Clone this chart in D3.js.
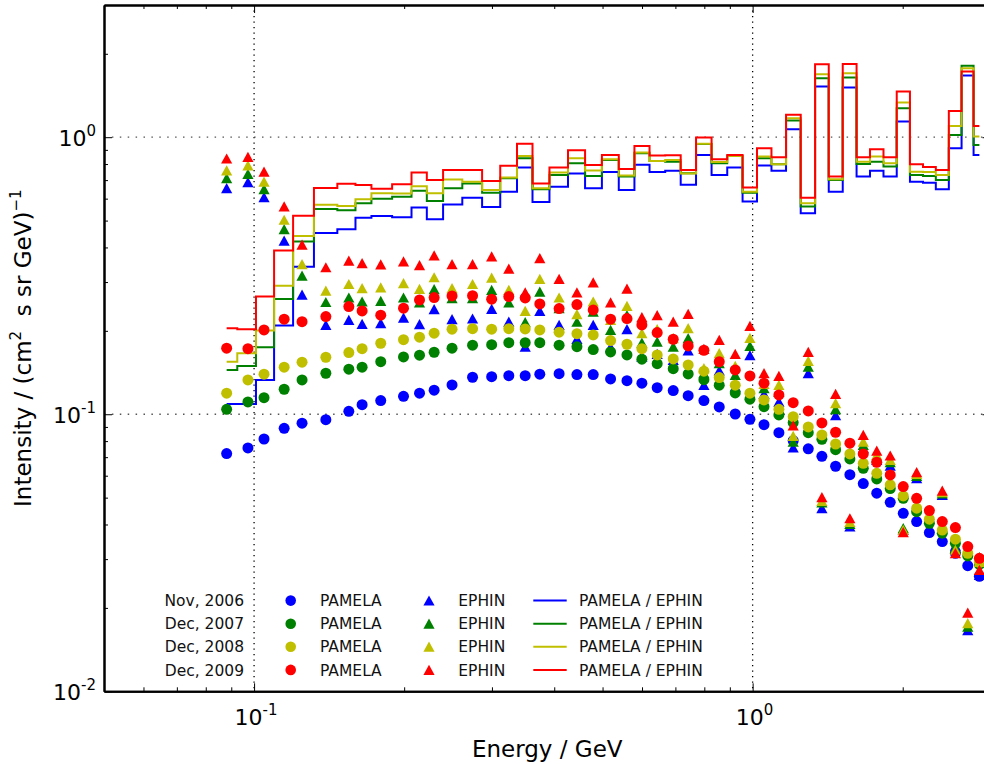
<!DOCTYPE html>
<html>
<head>
<meta charset="utf-8">
<script src="https://cdn.jsdelivr.net/npm/d3@7"></script>
<style>
  body { margin: 0; background: #fff; }
  svg { display: block; font-family: "DejaVu Sans", sans-serif; }
</style>
</head>
<body>
<div id="chart"></div>
<script>
  // Energy bins (GeV), shared by PAMELA, EPHIN and the combined spectra
  const energy = [0.0881, 0.0972, 0.1047, 0.1149, 0.1248, 0.1393, 0.1549, 0.1647, 0.1795, 0.1994,
    0.2147, 0.2297, 0.2495, 0.2743, 0.2996, 0.3243, 0.3498, 0.3742, 0.4091, 0.4442,
    0.4789, 0.5189, 0.5597, 0.5996, 0.6435, 0.6930, 0.7425, 0.7985, 0.8571, 0.9228,
    0.9876, 1.054, 1.129, 1.206, 1.293, 1.377, 1.467, 1.567, 1.667, 1.774,
    1.888, 2.005, 2.133, 2.262, 2.401, 2.551, 2.701, 2.850];

  const years = ['Nov, 2006', 'Dec, 2007', 'Dec, 2008', 'Dec, 2009'];
  const colors = ['#0000ff', '#008000', '#bfbf00', '#ff0000'];

  // PAMELA intensities (circles)
  const pamela2006 = [0.0721, 0.0756, 0.0814, 0.0890, 0.0928, 0.0956, 0.1025, 0.1083, 0.1120, 0.1161,
    0.1191, 0.1221, 0.1276, 0.1360, 0.1367, 0.1378, 0.1378, 0.1395, 0.1401, 0.1390,
    0.1390, 0.1341, 0.1322, 0.1294, 0.1247, 0.1217, 0.1167, 0.1120, 0.1063, 0.1002,
    0.0959, 0.0917, 0.0858, 0.0803, 0.0750, 0.0705, 0.0649, 0.0605, 0.0562, 0.0519,
    0.0481, 0.0439, 0.0410, 0.0374, 0.0347, 0.0315, 0.0284, 0.0260];
  const pamela2007 = [0.1042, 0.1108, 0.1148, 0.1231, 0.1330, 0.1406, 0.1454, 0.1478, 0.1548, 0.1610,
    0.1633, 0.1674, 0.1731, 0.1775, 0.1783, 0.1813, 0.1813, 0.1813, 0.1775, 0.1754,
    0.1711, 0.1679, 0.1637, 0.1580, 0.1523, 0.1461, 0.1398, 0.1333, 0.1273, 0.1194,
    0.1133, 0.1065, 0.0994, 0.0933, 0.0858, 0.0812, 0.0745, 0.0690, 0.0638, 0.0584,
    0.0539, 0.0497, 0.0445, 0.0404, 0.0372, 0.0342, 0.0308, 0.0287];
  const pamela2008 = [0.1191, 0.1330, 0.1395, 0.1478, 0.1541, 0.1606, 0.1669, 0.1725, 0.1804, 0.1859,
    0.1897, 0.1961, 0.2027, 0.2037, 0.2027, 0.2037, 0.2032, 0.2015, 0.1977, 0.1954,
    0.1933, 0.1844, 0.1789, 0.1725, 0.1637, 0.1584, 0.1507, 0.1430, 0.1356, 0.1273,
    0.1191, 0.1126, 0.1042, 0.0980, 0.0900, 0.0842, 0.0781, 0.0719, 0.0665, 0.0612,
    0.0556, 0.0507, 0.0458, 0.0418, 0.0382, 0.0354, 0.0315, 0.0292];
  const pamela2009 = [0.1731, 0.1725, 0.2015, 0.2203, 0.2159, 0.2251, 0.2446, 0.2360, 0.2277, 0.2414,
    0.2586, 0.2636, 0.2674, 0.2680, 0.2601, 0.2658, 0.2630, 0.2502, 0.2406, 0.2487,
    0.2380, 0.2203, 0.2214, 0.2101, 0.1971, 0.1865, 0.1764, 0.1702, 0.1548, 0.1445,
    0.1375, 0.1294, 0.1174, 0.1101, 0.1028, 0.0930, 0.0861, 0.0786, 0.0719, 0.0671,
    0.0604, 0.0548, 0.0497, 0.0449, 0.0410, 0.0390, 0.0333, 0.0302];

  // EPHIN intensities (triangles), null where there is no point
  const ephin2006 = [0.654, 0.688, 0.607, 0.423, 0.270, 0.2101, 0.219, 0.2118, 0.2131, 0.2232,
    0.2112, 0.2394, 0.2203, 0.2214, 0.2400, 0.2159, 0.1754, 0.2360, 0.2101, 0.1870,
    0.2101, 0.1745, 0.2027, 0.1614, 0.1651, 0.1571, 0.1697, 0.1276, 0.1437, 0.1258,
    0.1633, 0.1184, 0.1110, 0.0758, 0.1406, 0.0458, 0.0992, 0.0393, 0.0754, 0.0684,
    0.0652, 0.0382, 0.0587, null, 0.0511, 0.0335, 0.0166, 0.0263];
  const ephin2007 = [0.711, 0.737, 0.649, 0.465, 0.316, 0.254, 0.2636, 0.255, 0.2565, 0.2636,
    0.2529, 0.2827, 0.2623, 0.2623, 0.281, 0.2529, 0.2149, 0.277, 0.2414, 0.2155,
    0.2346, 0.2015, 0.2277, 0.1813, 0.1828, 0.1754, 0.1881, 0.1406, 0.1528, 0.1387,
    0.1764, 0.1241, 0.1204, 0.0796, 0.1485, 0.0480, 0.1042, 0.0402, 0.0775, 0.0700,
    0.0671, 0.0388, 0.0599, null, 0.0518, 0.0329, 0.0171, 0.0305];
  const ephin2008 = [0.758, 0.790, 0.691, 0.503, 0.348, 0.279, 0.295, 0.285, 0.287, 0.297,
    0.283, 0.312, 0.285, 0.295, 0.311, 0.281, 0.236, 0.308, 0.2636, 0.2296,
    0.255, 0.219, 0.246, 0.1961, 0.2027, 0.1881, 0.2044, 0.1466, 0.1660, 0.1494,
    0.1886, 0.1286, 0.1276, 0.0835, 0.1558, 0.0486, 0.1096, 0.0408, 0.0796, 0.0713,
    0.0684, 0.0382, 0.0609, null, 0.0523, 0.0324, 0.0176, 0.0293];
  const ephin2009 = [0.837, 0.849, 0.751, 0.562, 0.409, 0.339, 0.358, 0.351, 0.347, 0.356,
    0.345, 0.374, 0.348, 0.348, 0.371, 0.335, 0.275, 0.366, 0.308, 0.275,
    0.299, 0.253, 0.284, 0.2240, 0.2277, 0.2159, 0.2302, 0.172, 0.1855, 0.1651,
    0.2083, 0.1406, 0.1375, 0.0910, 0.1679, 0.0502, 0.1184, 0.0421, 0.0842, 0.0739,
    0.0709, 0.0375, 0.0618, null, 0.0530, 0.0315, 0.0192, 0.0274];

  // Combined PAMELA / EPHIN spectra (step lines)
  const combined2006 = [0.1089, 0.1089, 0.1330, 0.2089, 0.341, 0.451, 0.465, 0.512, 0.519, 0.514,
    0.557, 0.506, 0.572, 0.605, 0.560, 0.636, 0.777, 0.583, 0.663, 0.739,
    0.654, 0.749, 0.645, 0.796, 0.749, 0.756, 0.673, 0.863, 0.731, 0.777,
    0.586, 0.790, 0.756, 1.069, 0.532, 1.523, 0.636, 1.510, 0.721, 0.756,
    0.721, 1.139, 0.691, 0.685, 0.649, 0.913, 1.669, 0.863];
  const combined2007 = [0.1445, 0.1494, 0.1745, 0.2608, 0.420, 0.551, 0.545, 0.578, 0.599, 0.610,
    0.641, 0.589, 0.654, 0.680, 0.630, 0.711, 0.840, 0.649, 0.731, 0.806,
    0.725, 0.828, 0.721, 0.875, 0.821, 0.816, 0.741, 0.945, 0.806, 0.856,
    0.630, 0.840, 0.799, 1.148, 0.562, 1.633, 0.701, 1.643, 0.801, 0.816,
    0.783, 1.273, 0.731, 0.725, 0.701, 1.019, 1.809, 0.938];
  const combined2008 = [0.1548, 0.1660, 0.2004, 0.291, 0.440, 0.570, 0.565, 0.597, 0.628, 0.626,
    0.665, 0.628, 0.703, 0.691, 0.645, 0.715, 0.856, 0.654, 0.745, 0.840,
    0.758, 0.833, 0.727, 0.880, 0.821, 0.828, 0.739, 0.946, 0.814, 0.856,
    0.636, 0.851, 0.799, 1.171, 0.578, 1.688, 0.705, 1.702, 0.816, 0.851,
    0.806, 1.333, 0.751, 0.749, 0.731, 1.098, 1.775, 1.005];
  const combined2009 = [0.2044, 0.2027, 0.2658, 0.390, 0.521, 0.656, 0.679, 0.672, 0.651, 0.677,
    0.746, 0.701, 0.762, 0.761, 0.695, 0.788, 0.946, 0.680, 0.777, 0.898,
    0.794, 0.863, 0.768, 0.930, 0.858, 0.861, 0.762, 0.997, 0.833, 0.863,
    0.658, 0.913, 0.847, 1.204, 0.605, 1.835, 0.721, 1.838, 0.847, 0.905,
    0.847, 1.461, 0.799, 0.781, 0.762, 1.244, 1.725, 1.098];

  const pamela = [pamela2006, pamela2007, pamela2008, pamela2009];
  const ephin = [ephin2006, ephin2007, ephin2008, ephin2009];
  const combined = [combined2006, combined2007, combined2008, combined2009];

  const xMajor = [0.1, 1];
  const xMinor = [0.05, 0.06, 0.07, 0.08, 0.09, 0.2, 0.3, 0.4, 0.5, 0.6, 0.7, 0.8, 0.9, 2, 3];
  const yMajor = [0.01, 0.1, 1];
  const yMinor = [0.02, 0.03, 0.04, 0.05, 0.06, 0.07, 0.08, 0.09, 0.2, 0.3, 0.4, 0.5, 0.6, 0.7, 0.8, 0.9, 2, 3];
  const xTickExp = ['-1', '0'];
  const yTickExp = ['-2', '-1', '0'];

  const width = 984, height = 764;
  const plotLeft = 104, plotTop = 5, plotW = 886.5, plotH = 686.3;

  const x = d3.scaleLog().domain([0.05, 3]).range([plotLeft, plotLeft + plotW]);
  const y = d3.scaleLog().domain([0.01, 3]).range([plotTop + plotH, plotTop]);

  const svg = d3.select('#chart').append('svg')
    .attr('width', width)
    .attr('height', height);

  svg.append('defs').append('clipPath').attr('id', 'plot-clip')
    .append('rect').attr('x', plotLeft).attr('y', plotTop).attr('width', plotW).attr('height', plotH);

  // Dotted grid at major ticks
  const grid = svg.append('g');
  grid.selectAll('line.gx').data(xMajor).enter().append('line')
    .attr('x1', d => x(d)).attr('x2', d => x(d))
    .attr('y1', plotTop).attr('y2', plotTop + plotH)
    .attr('stroke', '#000').attr('stroke-width', 1.3).attr('stroke-dasharray', '1.3,4.2');
  grid.selectAll('line.gy').data(yMajor.slice(1)).enter().append('line')
    .attr('y1', d => y(d)).attr('y2', d => y(d))
    .attr('x1', plotLeft).attr('x2', plotLeft + plotW)
    .attr('stroke', '#555').attr('stroke-width', 1.3).attr('stroke-dasharray', '1.5,6.4');

  const plot = svg.append('g').attr('clip-path', 'url(#plot-clip)');
  const tri = 'M0,-5.2L5.6,5L-5.6,5Z';
  const stepLine = d3.line()
    .x((d, i) => x(energy[i]))
    .y(d => y(d))
    .curve(d3.curveStep);

  years.forEach((yr, k) => {
    const g = plot.append('g');
    g.selectAll('circle').data(pamela[k]).enter().append('circle')
      .attr('cx', (d, i) => x(energy[i]))
      .attr('cy', d => y(d))
      .attr('r', 5.5)
      .attr('fill', colors[k]);
    const tris = ephin[k].map((v, i) => ({ e: energy[i], v })).filter(d => d.v != null);
    g.selectAll('path.tri').data(tris).enter().append('path')
      .attr('d', tri)
      .attr('transform', d => `translate(${x(d.e)},${y(d.v)})`)
      .attr('fill', colors[k]);
    g.append('path')
      .datum(combined[k])
      .attr('d', stepLine)
      .attr('fill', 'none')
      .attr('stroke', colors[k])
      .attr('stroke-width', 2);
  });

  // Axes: ticks point inward on all four sides
  function tickAxis(axisFn, scale, values, size, pos) {
    const a = axisFn(scale).tickValues(values).tickSize(-size).tickSizeOuter(0).tickFormat('');
    const g = svg.append('g').attr('transform', pos).call(a);
    g.selectAll('.tick line').attr('stroke', '#000').attr('stroke-width', 1);
    g.select('.domain').attr('stroke', '#000').attr('stroke-width', 2);
    return g;
  }
  [[xMajor, 8], [xMinor, 4]].forEach(([vals, s]) => {
    tickAxis(d3.axisBottom, x, vals, s, `translate(0,${plotTop + plotH})`);
    tickAxis(d3.axisTop, x, vals, s, `translate(0,${plotTop})`);
  });
  [[yMajor, 8], [yMinor, 4]].forEach(([vals, s]) => {
    tickAxis(d3.axisLeft, y, vals, s, `translate(${plotLeft},0)`);
    tickAxis(d3.axisRight, y, vals, s, `translate(${plotLeft + plotW},0)`);
  });

  function powLabel(sel, exp) {
    sel.append('tspan').text('10');
    sel.append('tspan').attr('dy', -10).attr('font-size', 15).text(exp);
  }
  svg.selectAll('text.xt').data(xMajor).enter().append('text')
    .attr('x', d => x(d) + 2).attr('y', plotTop + plotH + 34)
    .attr('text-anchor', 'middle').attr('font-size', 22).attr('fill', '#000')
    .each(function(d, i) { powLabel(d3.select(this), xTickExp[i]); });
  svg.selectAll('text.yt').data(yMajor).enter().append('text')
    .attr('x', plotLeft - 8).attr('y', d => y(d) + 9)
    .attr('text-anchor', 'end').attr('font-size', 22).attr('fill', '#000')
    .each(function(d, i) { powLabel(d3.select(this), yTickExp[i]); });

  // Axis titles
  svg.append('text')
    .attr('x', plotLeft + plotW / 2).attr('y', 757)
    .attr('text-anchor', 'middle').attr('font-size', 23)
    .text('Energy / GeV');
  const yl = svg.append('text')
    .attr('transform', `translate(31,${plotTop + plotH / 2}) rotate(-90)`)
    .attr('text-anchor', 'middle').attr('font-size', 23);
  yl.append('tspan').text('Intensity / (cm');
  yl.append('tspan').attr('dy', -10).attr('font-size', 15).text('2');
  yl.append('tspan').attr('dy', 10).text('\u00a0\u00a0s sr GeV)');
  yl.append('tspan').attr('dy', -10).attr('font-size', 15).text('\u22121');

  // Legend
  const legend = svg.append('g').attr('font-size', 15.5).attr('fill', '#111');
  years.forEach((yr, k) => {
    const ry = 600.6 + k * 23.1;
    legend.append('text').attr('x', 244).attr('y', ry + 5.6).attr('text-anchor', 'end').text(yr);
    legend.append('circle').attr('cx', 290.7).attr('cy', ry).attr('r', 5.3).attr('fill', colors[k]);
    legend.append('text').attr('x', 320).attr('y', ry + 5.6).text('PAMELA');
    legend.append('path').attr('d', tri).attr('transform', `translate(429,${ry})`).attr('fill', colors[k]);
    legend.append('text').attr('x', 458.3).attr('y', ry + 5.6).text('EPHIN');
    legend.append('line').attr('x1', 533.3).attr('x2', 566.7).attr('y1', ry).attr('y2', ry)
      .attr('stroke', colors[k]).attr('stroke-width', 2);
    legend.append('text').attr('x', 579).attr('y', ry + 5.6).text('PAMELA / EPHIN');
  });
</script>
</body>
</html>
